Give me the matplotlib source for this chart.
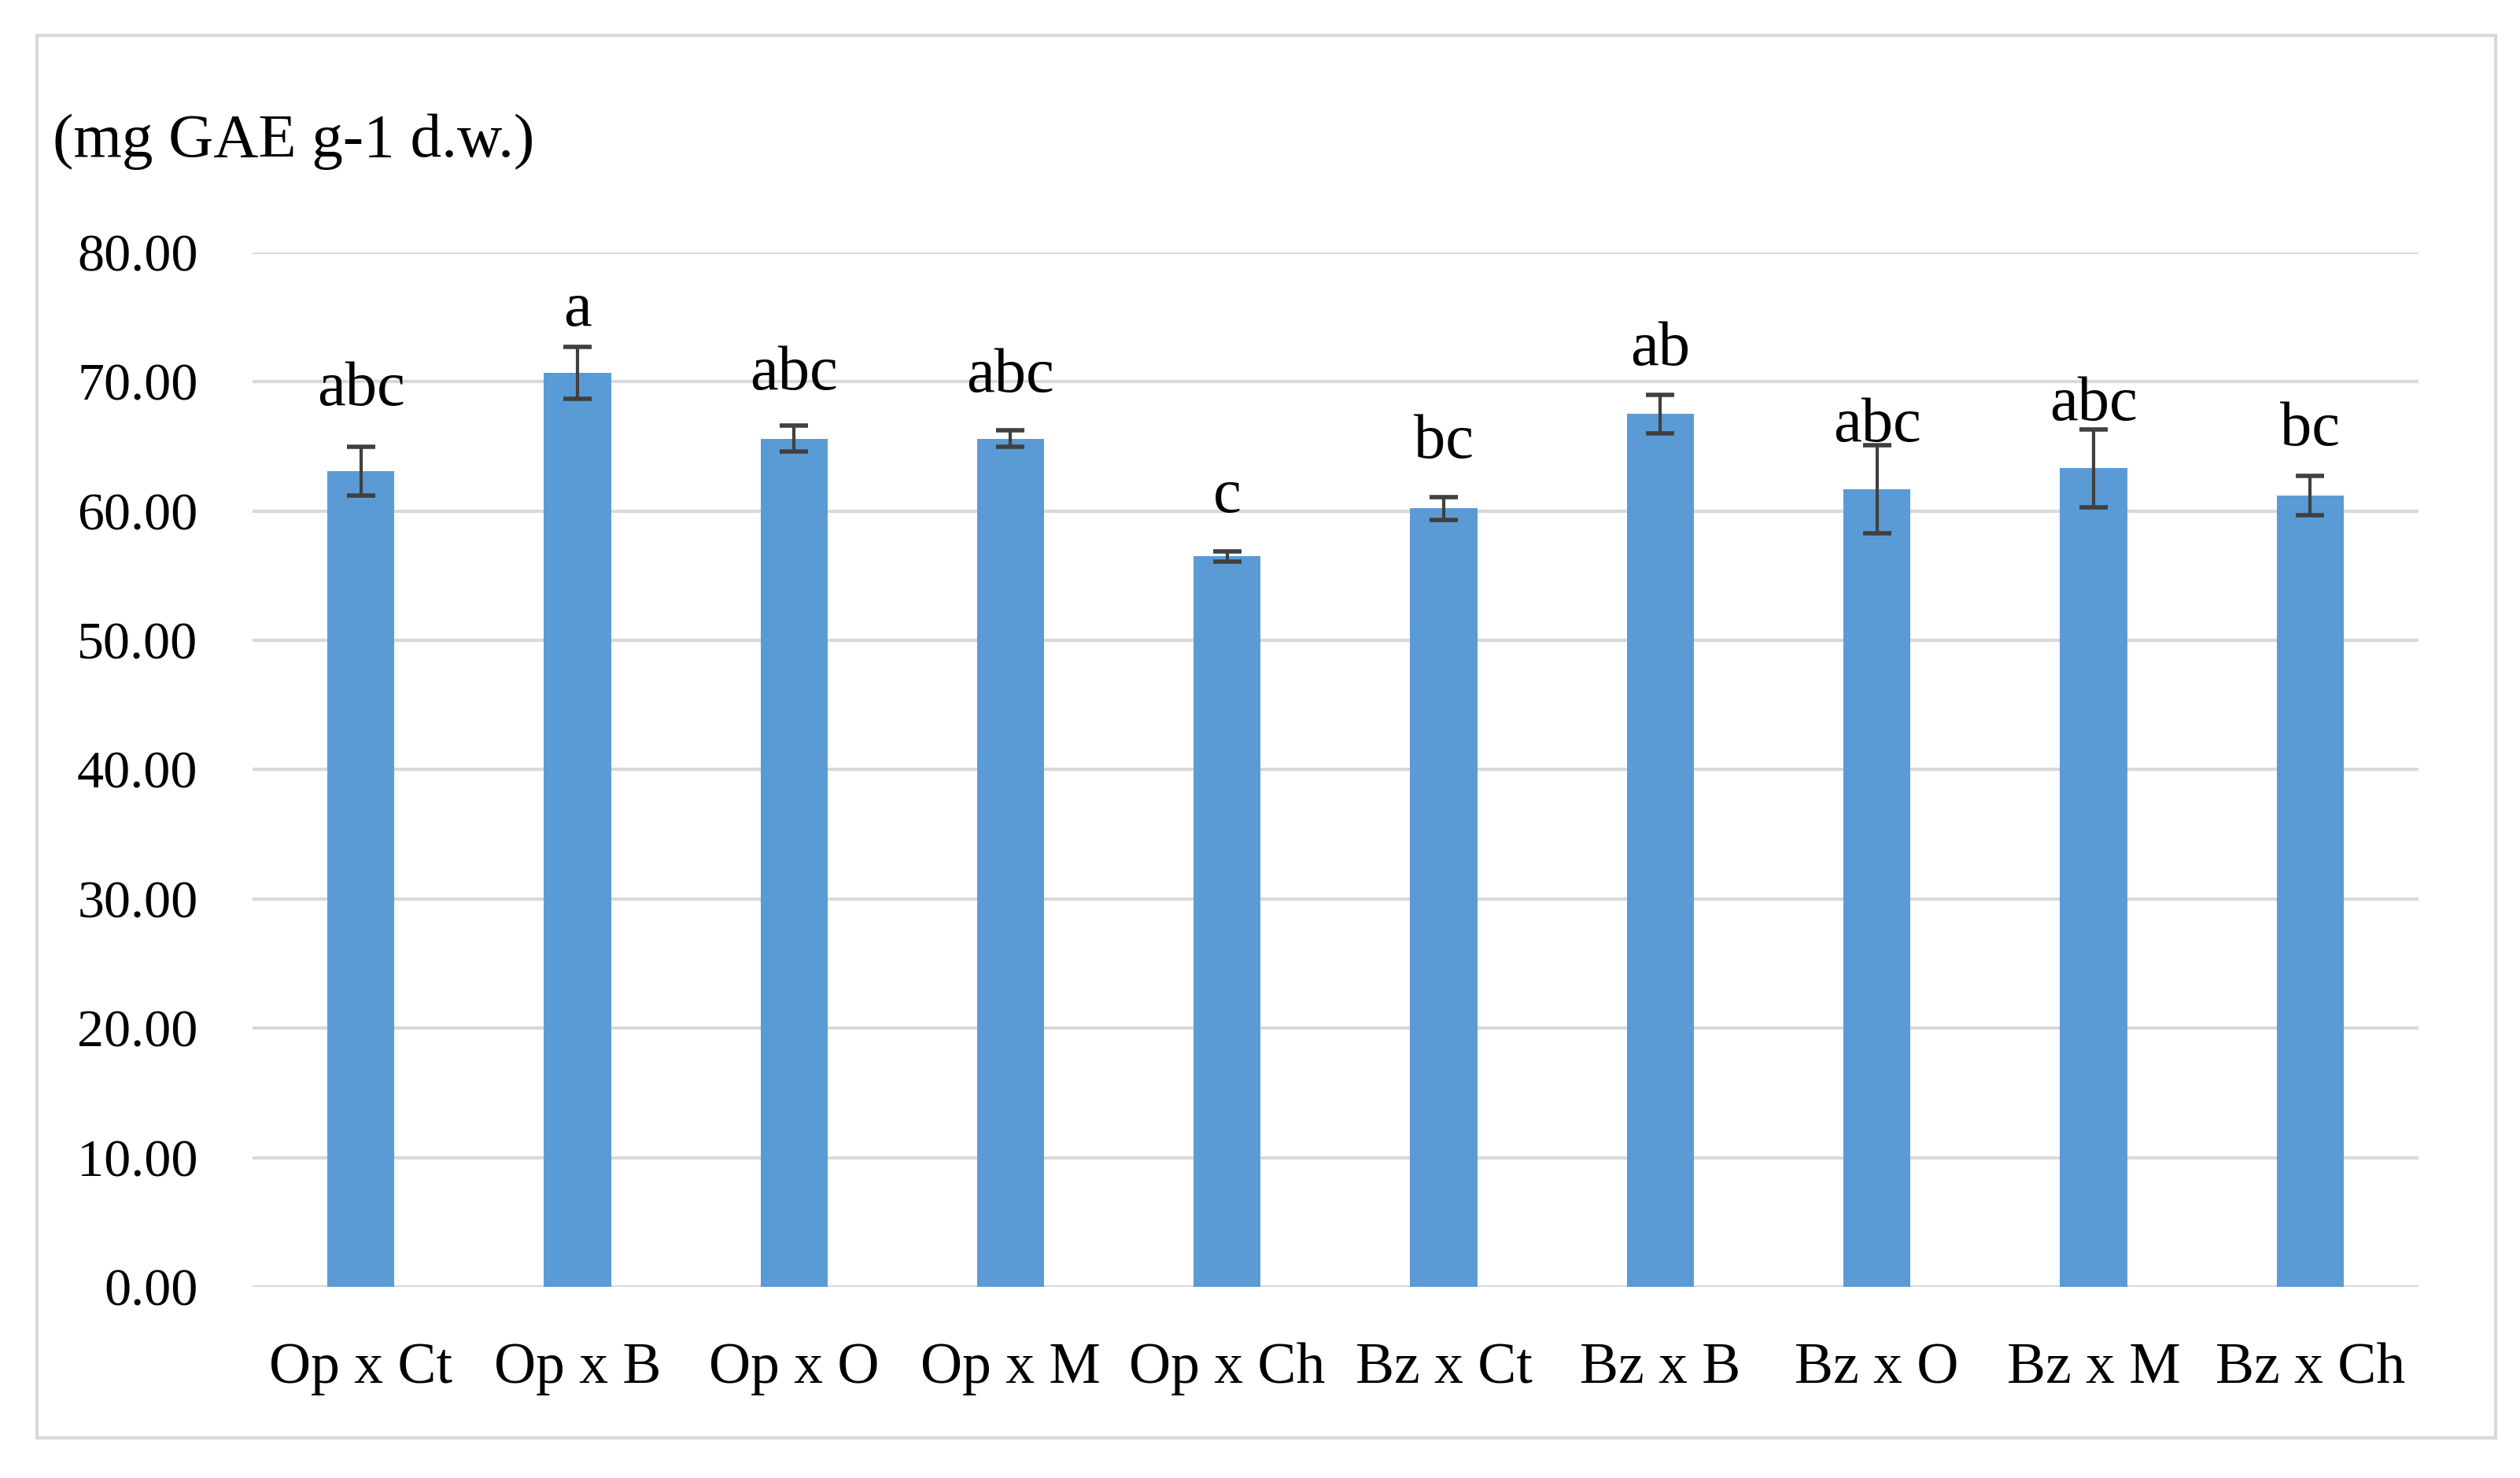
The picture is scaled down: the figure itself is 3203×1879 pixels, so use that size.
import matplotlib.pyplot as plt
from matplotlib.patches import Rectangle

groups = ['Op x Ct', 'Op x B', 'Op x O', 'Op x M', 'Op x Ch',
          'Bz x Ct', 'Bz x B', 'Bz x O', 'Bz x M', 'Bz x Ch']
means = [63.1, 70.7, 65.6, 65.6, 56.5, 60.2, 67.5, 61.7, 63.3, 61.2]
errs = [1.9, 2.0, 1.0, 0.65, 0.4, 0.9, 1.5, 3.4, 3.0, 1.5]
letters = ['abc', 'a', 'abc', 'abc', 'c', 'bc', 'ab', 'abc', 'abc', 'bc']
letter_y = [69.4, 75.5, 70.6, 70.4, 61.1, 65.3, 72.5, 66.6, 68.2, 66.3]
yticks = [0, 10, 20, 30, 40, 50, 60, 70, 80]

plt.rcParams['font.family'] = ['Liberation Serif', 'DejaVu Serif']

fig = plt.figure(figsize=(32.03, 18.79), dpi=100)
ax = fig.add_axes([0.1002, 0.1293, 0.8595, 0.6999])

# light grey frame round the whole chart
fig.patches.append(Rectangle((0.0147, 0.027), 0.9757, 0.949, transform=fig.transFigure,
                             fill=False, edgecolor='#D9D9D9', linewidth=3))

x = range(len(groups))
ax.bar(x, means, width=0.31, color='#5B9BD5', zorder=2)
ax.errorbar(x, means, yerr=errs, fmt='none', ecolor='#404040',
            elinewidth=3, capsize=13, capthick=4, zorder=3)

for i, (lab, yy) in enumerate(zip(letters, letter_y)):
    ax.text(i, yy, lab, ha='center', va='center', fontsize=58, color='black', zorder=4)

ax.set_xlim(-0.5, len(groups) - 0.5)
ax.set_ylim(0, 80)
ax.set_yticks(yticks)
ax.set_yticklabels(['%.2f' % v for v in yticks])
ax.set_xticks(list(x))
ax.set_xticklabels(groups)
ax.tick_params(axis='both', length=0, colors='black')
ax.tick_params(axis='y', pad=50, labelsize=49)
ax.tick_params(axis='x', pad=51, labelsize=53)

ax.grid(axis='y', color='#D9D9D9', linewidth=3, zorder=0)
ax.set_axisbelow(True)
for s in ['top', 'right', 'left', 'bottom']:
    ax.spines[s].set_visible(False)

fig.text(0.0209, 0.904, '(mg GAE g-1 d.w.)', fontsize=57, ha='left', va='center')

fig.savefig('out.png', dpi=100, facecolor='white')
